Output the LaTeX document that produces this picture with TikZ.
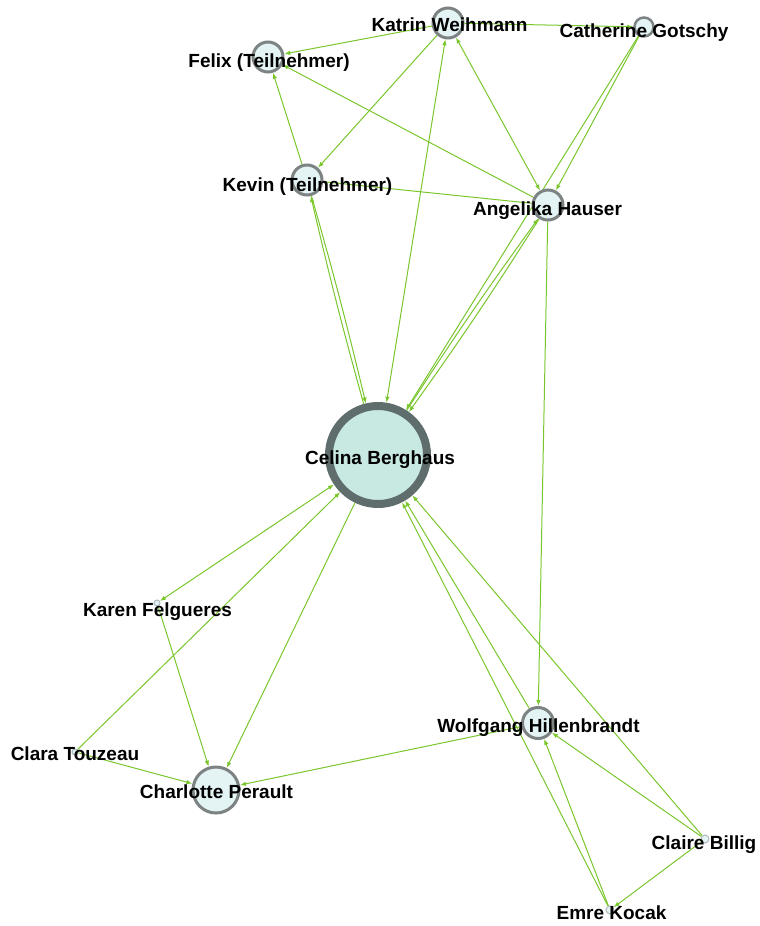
\documentclass[tikz,border=0pt]{standalone}
\usepackage{fontspec}
\setmainfont{Liberation Sans}
\usetikzlibrary{arrows.meta,backgrounds}
\definecolor{edgegreen}{RGB}{122,198,45}
\definecolor{ringgray}{RGB}{125,130,130}
\definecolor{ringfill}{RGB}{228,243,244}
\definecolor{hubgray}{RGB}{95,110,108}
\definecolor{hubfill}{RGB}{200,232,226}
\definecolor{dotgray}{RGB}{175,185,190}
\begin{document}
\begin{tikzpicture}[x=1pt,y=-1pt,
  person/.style={circle, draw=ringgray, fill=ringfill, line width=3pt, inner sep=0pt, minimum size=30pt},
  hub/.style={person, draw=hubgray, fill=hubfill, line width=8pt, minimum size=98pt},
  mid/.style={person, minimum size=46pt},
  tiny/.style={person, draw=dotgray, line width=1pt, minimum size=#1},
  lab/.style={font=\fontsize{19}{21}\selectfont\bfseries, text=black, anchor=base, inner sep=0pt},
  tip/.tip={Latex[length=6pt,width=4.5pt]},
  link/.style={draw=edgegreen, line width=1pt, -tip},
  twoway/.style={draw=edgegreen, line width=1pt, tip-tip},
  plainlink/.style={draw=edgegreen, line width=1pt}]
\useasboundingbox (0,0) rectangle (760,926);

% people
\node[person] (katrin) at (448,23) {};
\node[person] (felix) at (268,57) {};
\node[person, line width=2.5pt, minimum size=19pt] (catherine) at (644,27) {};
\node[person] (kevin) at (307,180) {};
\node[person] (angelika) at (548,205) {};
\node[hub] (celina) at (378,455) {};
\node[tiny=6pt] (karen) at (157,603) {};
\node[tiny=6pt] (clara) at (75,752) {};
\node[mid] (charlotte) at (216,790) {};
\node[person, minimum size=31pt] (wolfgang) at (538,723) {};
\node[tiny=8pt] (claire) at (705,839) {};
\node[tiny=8pt] (emre) at (610,910) {};

% relations, kept behind the circles
\begin{pgfonlayer}{background}
\path[link] (katrin) -- (felix);
\path[link] (katrin) -- (catherine);
\path[link] (katrin) -- (kevin);
\path[twoway] (katrin) -- (angelika);
\path[twoway] (celina) -- (katrin);
\path[link] (kevin) -- (felix);
\path[link] (angelika) -- (felix);
\path[plainlink] (kevin) -- (angelika);
\path[link] (catherine) -- (angelika);
\path[link] (catherine) -- (celina);
\path[link] (angelika) to[bend left=1.5] (celina);
\path[link] (celina) to[bend left=1.5] (angelika);
\path[link] (kevin) to[bend left=1.2] (celina);
\path[link] (celina) to[bend left=1.2] (kevin);
\path[link] (angelika) -- (wolfgang);
\path[twoway] (celina) -- (karen);
\path[link] (clara) -- (celina);
\path[link] (celina) -- (charlotte);
\path[link] (karen) -- (charlotte);
\path[link] (clara) -- (charlotte);
\path[link] (wolfgang) -- (charlotte);
\path[link] (wolfgang) -- (celina);
\path[link] (emre) -- (celina);
\path[link] (claire) -- (celina);
\path[link] (emre) -- (wolfgang);
\path[link] (claire) -- (wolfgang);
\path[link] (claire) -- (emre);
\end{pgfonlayer}

% names
\node[lab] (l-katrin) at (449.5,31) {Katrin Weihmann};
\node[lab] (l-felix) at (269,67) {Felix (Teilnehmer)};
\node[lab] (l-catherine) at (644,37) {Catherine Gotschy};
\node[lab] (l-kevin) at (307.5,191) {Kevin (Teilnehmer)};
\node[lab] (l-angelika) at (547.5,215) {Angelika Hauser};
\node[lab] (l-celina) at (380,464) {Celina Berghaus};
\node[lab] (l-karen) at (157.5,616) {Karen Felgueres};
\node[lab] (l-clara) at (75,760) {Clara Touzeau};
\node[lab] (l-charlotte) at (216.5,798) {Charlotte Perault};
\node[lab] (l-wolfgang) at (538.5,732) {Wolfgang Hillenbrandt};
\node[lab] (l-claire) at (704,849) {Claire Billig};
\node[lab] (l-emre) at (611.5,919) {Emre Kocak};
\end{tikzpicture}
\end{document}
